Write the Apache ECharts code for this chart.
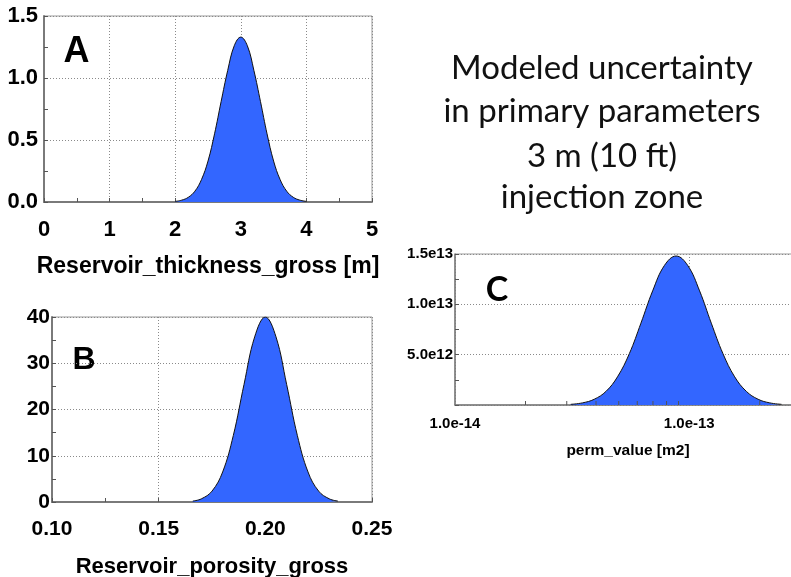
<!DOCTYPE html>
<html><head><meta charset="utf-8">
<script src="https://cdn.jsdelivr.net/npm/echarts@6/dist/echarts.min.js"></script>
<style>html,body{margin:0;padding:0;background:#fff}#c{width:791px;height:577px}</style>
</head><body><div id="c"></div>
<script>
// ---- Data ----
const thicknessX = [2.0,2.1,2.2,2.3,2.4,2.5,2.6,2.7,2.8,2.9,3.0,3.1,3.2,3.3,3.4,3.5,3.6,3.7,3.8,3.9,4.0];
const thicknessY = [0.005,0.015,0.038,0.087,0.18,0.33,0.55,0.81,1.06,1.26,1.33,1.26,1.06,0.81,0.55,0.33,0.18,0.087,0.038,0.015,0.005];
const porosityX = [0.166,0.170,0.175,0.180,0.185,0.190,0.195,0.200,0.205,0.210,0.215,0.220,0.225,0.230,0.234];
const porosityY = [0.2,0.68,2.35,6.5,14.4,25.4,35.7,40,35.7,25.4,14.4,6.5,2.35,0.68,0.2];
const permX = [3.12e-14,3.50e-14,3.93e-14,4.41e-14,4.94e-14,5.55e-14,6.22e-14,6.98e-14,7.83e-14,8.79e-14,9.86e-14,1.107e-13,1.242e-13,1.393e-13,1.563e-13,1.754e-13,1.968e-13,2.208e-13,2.477e-13];
const permY = [6.7e10,2.1e11,5.7e11,1.35e12,2.80e12,5.10e12,8.13e12,1.134e13,1.385e13,1.48e13,1.385e13,1.134e13,8.13e12,5.10e12,2.80e12,1.35e12,5.7e11,2.1e11,6.7e10];
const permMinorTicks = [2e-14,3e-14,4e-14,5e-14,6e-14,7e-14,8e-14,9e-14,2e-13];
const axisNames = ['Reservoir_thickness_gross [m]','Reservoir_porosity_gross','perm_value [m2]'];
const panelLetters = ['A','B','C'];
const titleLines = ['Modeled uncertainty','in primary parameters','3 m (10 ft)','injection zone'];

const FILL = '#3366ff';
const GRID_LINE = {show:true, lineStyle:{color:'#8a8a8a', width:1, type:[1,2]}};
const AXIS_LINE = {show:true, lineStyle:{color:'#7a7a7a', width:2}};
const TICK = {show:true, inside:true, length:4, lineStyle:{color:'#555'}};
const MINOR = {show:true, splitNumber:2, length:4, lineStyle:{color:'#555'}};
const FONT = 'Liberation Sans, Arial, sans-serif';

function lbl(size, margin, fmt){
  return {color:'#000', fontWeight:'bold', fontFamily:FONT, fontSize:size, margin:margin, formatter:fmt};
}
function zip(a,b){return a.map((v,i)=>[v,b[i]]);}

const chart = echarts.init(document.getElementById('c'), null, {renderer:'canvas'});
chart.setOption({
  backgroundColor:'#fff',
  animation:false,
  grid:[
    {left:44, top:16, width:328, height:186, show:true, borderColor:'#9a9a9a', borderWidth:1, outerBoundsMode:'none'},
    {left:52, top:317, width:320, height:185, show:true, borderColor:'#9a9a9a', borderWidth:1, outerBoundsMode:'none'},
    {left:455, top:254, width:346, height:151, show:true, borderColor:'#9a9a9a', borderWidth:1, outerBoundsMode:'none'}
  ],
  xAxis:[
    {gridIndex:0, type:'value', min:0, max:5, interval:1, axisLine:AXIS_LINE, axisTick:TICK, minorTick:MINOR,
     splitLine:GRID_LINE, axisLabel:lbl(22,17,v=>String(v)),
     name:axisNames[0], nameLocation:'middle', nameGap:53,
     nameTextStyle:{color:'#000', fontWeight:'bold', fontFamily:FONT, fontSize:23}},
    {gridIndex:1, type:'value', min:0.10, max:0.25, interval:0.05, axisLine:AXIS_LINE, axisTick:TICK, minorTick:MINOR,
     splitLine:GRID_LINE, axisLabel:lbl(21,17,v=>v.toFixed(2)),
     name:axisNames[1], nameLocation:'middle', nameGap:54,
     nameTextStyle:{color:'#000', fontWeight:'bold', fontFamily:FONT, fontSize:22}},
    {gridIndex:2, type:'log', logBase:10, min:1e-14, max:3e-13, axisLine:{show:true, lineStyle:{color:'#7a7a7a', width:1.5}},
     axisTick:{show:false}, splitLine:GRID_LINE,
     axisLabel:Object.assign(lbl(15,11,v=>v.toExponential(1)), {showMaxLabel:false}),
     name:axisNames[2], nameLocation:'middle', nameGap:38,
     nameTextStyle:{color:'#000', fontWeight:'bold', fontFamily:FONT, fontSize:15.5}}
  ],
  yAxis:[
    {gridIndex:0, type:'value', min:0, max:1.5, interval:0.5, axisLine:AXIS_LINE, axisTick:TICK, minorTick:MINOR,
     splitLine:GRID_LINE, axisLabel:lbl(22,6,v=>v.toFixed(1))},
    {gridIndex:1, type:'value', min:0, max:40, interval:10, axisLine:AXIS_LINE, axisTick:TICK, minorTick:MINOR,
     splitLine:GRID_LINE, axisLabel:lbl(21,2,v=>String(v))},
    {gridIndex:2, type:'value', min:0, max:1.5e13, interval:5e12, axisLine:{show:true, lineStyle:{color:'#7a7a7a', width:1.5}},
     axisTick:TICK, minorTick:MINOR, splitLine:GRID_LINE,
     axisLabel:lbl(15,2,v=>v===0?'':v.toExponential(1).replace('+',''))}
  ],
  series:[
    {type:'line', xAxisIndex:0, yAxisIndex:0, data:zip(thicknessX,thicknessY), smooth:0.4, symbol:'none',
     lineStyle:{color:'#111', width:1}, areaStyle:{color:FILL, opacity:1}},
    {type:'line', xAxisIndex:1, yAxisIndex:1, data:zip(porosityX,porosityY), smooth:0.4, symbol:'none',
     lineStyle:{color:'#111', width:1}, areaStyle:{color:FILL, opacity:1}},
    {type:'line', xAxisIndex:2, yAxisIndex:2, data:zip(permX,permY), smooth:0.4, symbol:'none',
     lineStyle:{color:'#111', width:1}, areaStyle:{color:FILL, opacity:1}},
    {type:'custom', xAxisIndex:2, yAxisIndex:2, z:5, silent:true,
     data:permMinorTicks.map(v=>[v,0]),
     encode:{x:0,y:1},
     renderItem:function(params, api){
       const p = api.coord([api.value(0), 0]);
       return {type:'line', shape:{x1:p[0], y1:p[1], x2:p[0], y2:p[1]-4}, style:{stroke:'#555', lineWidth:1}};
     }}
  ],
  graphic:[
    {type:'text', x:76.5, y:52.5, style:{text:panelLetters[0], font:'bold 36px '+FONT, fill:'#000', align:'center', verticalAlign:'middle'}},
    {type:'text', x:84, y:360, style:{text:panelLetters[1], font:'bold 32px '+FONT, fill:'#000', align:'center', verticalAlign:'middle'}},
    {type:'text', x:497, y:290, style:{text:panelLetters[2], font:'bold 34px Lato, sans-serif', fill:'#000', align:'center', verticalAlign:'middle'}},
    {type:'text', x:602, y:68, style:{text:titleLines[0], font:'33px Lato, sans-serif', fill:'#111', align:'center', verticalAlign:'middle'}},
    {type:'text', x:602, y:111, style:{text:titleLines[1], font:'33px Lato, sans-serif', fill:'#111', align:'center', verticalAlign:'middle'}},
    {type:'text', x:602, y:156, style:{text:titleLines[2], font:'33px Lato, sans-serif', fill:'#111', align:'center', verticalAlign:'middle'}},
    {type:'text', x:602, y:197, style:{text:titleLines[3], font:'33px Lato, sans-serif', fill:'#111', align:'center', verticalAlign:'middle'}}
  ]
});
</script></body></html>
